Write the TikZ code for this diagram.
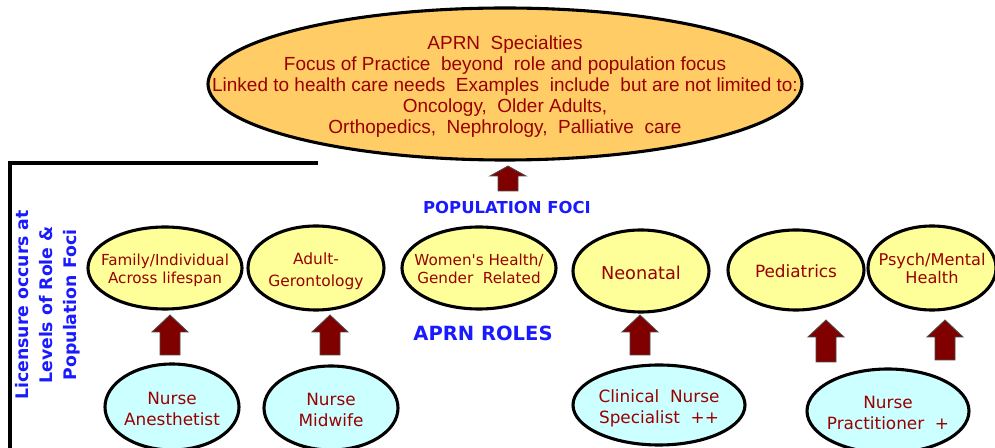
\documentclass[tikz,border=0pt]{standalone}
\usepackage{fontspec}
\setmainfont{Liberation Sans}
\newfontfamily\verd{DejaVu Sans}
\usetikzlibrary{shapes.geometric}
\definecolor{specorange}{HTML}{FFCC66}
\definecolor{fociyellow}{HTML}{FFFF99}
\definecolor{rolecyan}{HTML}{CCFFFF}
\definecolor{txtred}{HTML}{990000}
\definecolor{arrowred}{HTML}{800000}
\definecolor{lblblue}{HTML}{1A1AFF}
\newcommand{\pu}{0.025cm}
% text that does not widen the oval round it
\newcommand{\inoval}[1]{\smash{\makebox[0pt]{\raisebox{-0.45em}{\begin{tabular}{@{}c@{}}#1\end{tabular}}}}}
\tikzset{pics/fatup/.style args={#1/#2}{code={
  \filldraw[fill=arrowred, draw=black!70, line width=0.6pt]
    (0,0) -- (18,-#2) -- (10,-#2) -- (10,-#1) -- (-10,-#1) -- (-10,-#2) -- (-18,-#2) -- cycle;}}}
\begin{document}
\begin{tikzpicture}[x=\pu, y=\pu,
    oval/.style ={ellipse, draw, line width=2.2pt, inner sep=0pt, text=txtred},
    spec/.style ={oval, fill=specorange, font=\fontsize{13.5}{15}\selectfont},
    focus/.style ={oval, fill=fociyellow, font=\verd\fontsize{12}{16}\selectfont},
    role/.style ={oval, fill=rolecyan, font=\verd\fontsize{12}{15}\selectfont},
    lbl/.style ={text=lblblue, font=\verd\bfseries}]
   \useasboundingbox (0,0) rectangle (995,448);
   % specialties on top
   \node[spec, minimum width=594*\pu, minimum height=152*\pu] (spec) at (505,364)
     {\inoval{APRN\ \ Specialties\\Focus of Practice\ \ beyond\ \ role and population focus\\
      Linked to health care needs\ \ Examples\ \ include\ \ but are not limited to:\\
      Oncology,\ \ Older Adults,\\Orthopedics,\ \ Nephrology,\ \ Palliative\ \ care}};
   \draw[line width=2.2pt] (10,0) |- (318,285);
   \node[lbl, font=\verd\bfseries\fontsize{11.7}{14}\selectfont] (popfoci) at (507,240) {POPULATION FOCI};
   \node[lbl, font=\verd\bfseries\fontsize{13.9}{16}\selectfont] (roles) at (483,115) {APRN ROLES};
   \node[lbl, rotate=90, align=center, font=\verd\bfseries\fontsize{12.3}{17}\selectfont] (lic) at (48,143)
     {Licensure occurs at\\Levels of Role \&\\Population Foci};
   % population foci
   \node[focus, minimum width=154*\pu, minimum height=82*\pu, font=\verd\fontsize{10.8}{13}\selectfont] (fam) at (165,180) {\inoval{Family/Individual\\Across lifespan}};
   \node[focus, minimum width=136*\pu, minimum height=84*\pu, font=\verd\fontsize{11}{16}\selectfont] (adult) at (316,180) {\inoval{Adult-\\Gerontology}};
   \node[focus, minimum width=154*\pu, minimum height=82*\pu, font=\verd\fontsize{10.8}{13}\selectfont] (women) at (479,180) {\inoval{Women's Health/\\Gender\ \ Related}};
   \node[focus, minimum width=136*\pu, minimum height=82*\pu, font=\verd\fontsize{12.6}{16}\selectfont] (neo) at (641,177) {\inoval{Neonatal}};
   \node[focus, minimum width=136*\pu, minimum height=80*\pu] (ped) at (796,178) {\inoval{Pediatrics}};
   \node[focus, minimum width=128*\pu, minimum height=84*\pu, font=\verd\fontsize{11.5}{12}\selectfont] (psych) at (932,180) {\inoval{Psych/Mental\\Health}};
   % roles
   \node[role, minimum width=134*\pu, minimum height=86*\pu] (anest) at (172,41) {\inoval{Nurse\\Anesthetist}};
   \node[role, minimum width=134*\pu, minimum height=84*\pu] (midwife) at (331,40) {\inoval{Nurse\\Midwife}};
   \node[role, minimum width=172*\pu, minimum height=80*\pu] (cns) at (659,43) {\inoval{Clinical\ \ Nurse\\Specialist\ \ ++}};
   \node[role, minimum width=162*\pu, minimum height=84*\pu] (np) at (888,37) {\inoval{Nurse\\Practitioner\ \ +}};
   % block arrows
   \pic (up0) at (508,282) {fatup=25/10};
   \pic (up1) at (170,133) {fatup=40/17};
   \pic (up2) at (330,133) {fatup=40/17};
   \pic (up3) at (640,133) {fatup=40/17};
   \pic (up4) at (826,128) {fatup=42/17};
   \pic (up5) at (945,128) {fatup=40/17};
 \end{tikzpicture}
\end{document}
